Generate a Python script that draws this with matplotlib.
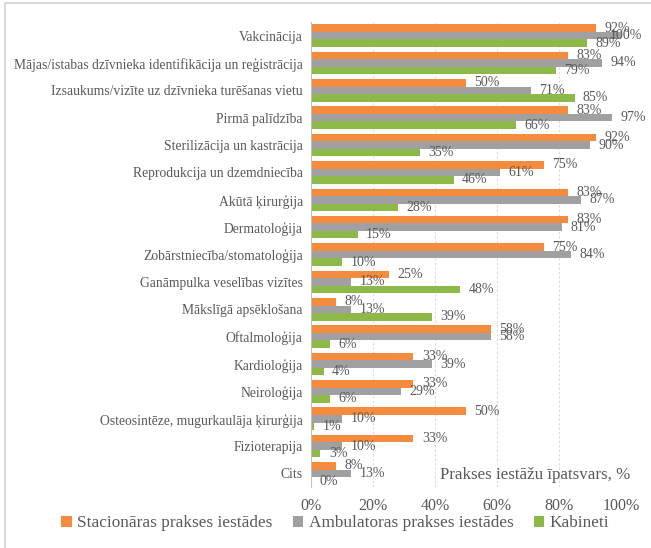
import matplotlib
matplotlib.use('Agg')
import matplotlib.pyplot as plt
from matplotlib.patches import Rectangle
import numpy as np

# Data
categories = [
    'Vakcinācija',
    'Mājas/istabas dzīvnieka identifikācija un reģistrācija',
    'Izsaukums/vizīte uz dzīvnieka turēšanas vietu',
    'Pirmā palīdzība',
    'Sterilizācija un kastrācija',
    'Reprodukcija un dzemdniecība',
    'Akūtā ķirurģija',
    'Dermatoloģija',
    'Zobārstniecība/stomatoloģija',
    'Ganāmpulka veselības vizītes',
    'Mākslīgā apsēklošana',
    'Oftalmoloģija',
    'Kardioloģija',
    'Neiroloģija',
    'Osteosintēze, mugurkaulāja ķirurģija',
    'Fizioterapija',
    'Cits',
]
stacionaras = [92, 83, 50, 83, 92, 75, 83, 83, 75, 25, 8, 58, 33, 33, 50, 33, 8]
ambulatoras = [100, 94, 71, 97, 90, 61, 87, 81, 84, 13, 13, 58, 39, 29, 10, 10, 13]
kabineti = [89, 79, 85, 66, 35, 46, 28, 15, 10, 48, 39, 6, 4, 6, 1, 3, 0]
series_names = ['Stacionāras prakses iestādes', 'Ambulatoras prakses iestādes', 'Kabineti']
x_ticks = [0, 20, 40, 60, 80, 100]

colors = ['#F58B3C', '#A0A0A3', '#8CB948']
text_color = '#595959'
plt.rcParams['font.family'] = ['Liberation Serif', 'DejaVu Serif']

fig = plt.figure(figsize=(6.51, 5.48), dpi=100)
ax = fig.add_axes([0.478, 0.111, 0.476, 0.849])

y = np.arange(len(categories))
h = 0.275
for i, (vals, col, name) in enumerate(zip([stacionaras, ambulatoras, kabineti], colors, series_names)):
    pos = y + (i - 1) * h
    ax.barh(pos, vals, height=h, color=col, label=name, zorder=2)
    for p, v in zip(pos, vals):
        # the full-length label is pulled back over the bar so it stays inside the picture
        dx = -8 if v >= 99 else 6
        ax.annotate(f'{v}%', (v, p), xytext=(dx, 0), textcoords='offset points',
                    ha='left', va='center', fontsize=10, color=text_color, zorder=3)

ax.set_ylim(len(categories) - 0.5, -0.5)
ax.set_xlim(0, 100)
ax.set_xticks(x_ticks)
ax.set_xticklabels([f'{t}%' for t in x_ticks], fontsize=11.5, color=text_color)
ax.set_yticks(y)
ax.set_yticklabels(categories, fontsize=9.8, color=text_color)
ax.tick_params(axis='both', length=0, pad=8)
ax.tick_params(axis='y', pad=6)

ax.grid(axis='x', linestyle=(0, (2, 2)), color='#D9D9D9', linewidth=0.8, zorder=0)
for s in ['top', 'right', 'bottom']:
    ax.spines[s].set_visible(False)
ax.spines['left'].set_color('#BFBFBF')

ax.text(1.029, 0.026, 'Prakses iestāžu īpatsvars, %', transform=ax.transAxes,
        ha='right', va='center', fontsize=12.2, color=text_color)

handles, labels = ax.get_legend_handles_labels()
fig.legend(handles, labels, loc='center', bbox_to_anchor=(0.515, 0.045), ncol=3,
           frameon=False, fontsize=12.4, labelcolor=text_color, handlelength=0.6,
           handleheight=0.6, handletextpad=0.3, columnspacing=1.2)

# light border around the chart area (right and bottom edges fall outside the picture)
fig.patches.append(Rectangle((0.0077, -0.02), 1.05, 1.0145, transform=fig.transFigure,
                             fill=False, edgecolor='#D9D9D9', linewidth=1.5))

fig.savefig('out.png', dpi=100)
